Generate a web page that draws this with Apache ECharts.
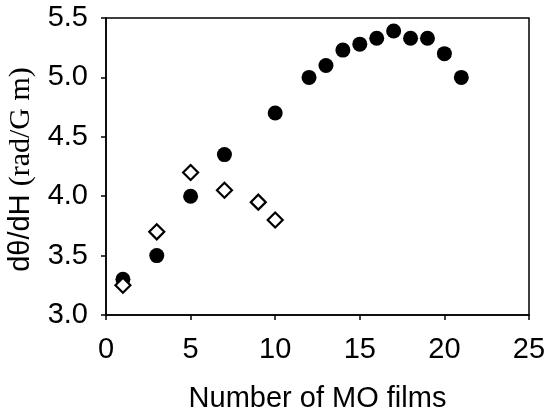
<!DOCTYPE html>
<html>
<head>
<meta charset="utf-8">
<script src="https://cdn.jsdelivr.net/npm/echarts@6/dist/echarts.min.js"></script>
<style>
html,body{margin:0;padding:0;background:#fff;}
#c{width:550px;height:416px;}
</style>
</head>
<body>
<div id="c"></div>
<script>
var filledX = [1, 3, 5, 7, 10, 12, 13, 14, 15, 16, 17, 18, 19, 20, 21];
var filledY = [3.3, 3.5, 4.0, 4.35, 4.7, 5.0, 5.1, 5.23, 5.28, 5.33, 5.39, 5.33, 5.33, 5.2, 5.0];
var openX = [1, 3, 5, 7, 9, 10];
var openY = [3.25, 3.7, 4.2, 4.05, 3.95, 3.8];
var xTicks = [0, 5, 10, 15, 20, 25];
var yTicks = [3.0, 3.5, 4.0, 4.5, 5.0, 5.5];

function pairs(xs, ys) { return xs.map(function (x, i) { return [x, ys[i]]; }); }

var SANS = "'Liberation Sans', Arial, sans-serif";
var SERIF = "'Liberation Serif', 'Times New Roman', serif";

var chart = echarts.init(document.getElementById('c'), null, {renderer: 'canvas'});
chart.setOption({
  backgroundColor: '#fff',
  animation: false,
  grid: {left: 106, right: 21, top: 18, bottom: 101, containLabel: false, outerBoundsMode: 'none',
    show: true, borderColor: '#000', borderWidth: 1.5, backgroundColor: 'transparent'},
  xAxis: {
    type: 'value', min: xTicks[0], max: xTicks[xTicks.length - 1], interval: 5,
    name: 'Number of MO films', nameLocation: 'middle', nameGap: 69,
    nameTextStyle: {fontFamily: SANS, fontSize: 29, color: '#000'},
    axisLine: {show: true, lineStyle: {color: '#000', width: 1.5}},
    axisTick: {show: true, inside: false, length: 5, lineStyle: {color: '#000', width: 1.5}},
    axisLabel: {fontFamily: SANS, fontSize: 29, color: '#000', margin: 20},
    splitLine: {show: false}
  },
  yAxis: {
    type: 'value', min: yTicks[0], max: yTicks[yTicks.length - 1], interval: 0.5,
    name: '{a|dθ/dH} {b|(rad/G m)}', nameLocation: 'middle', nameGap: 70, nameRotate: 90,
    nameTextStyle: {
      color: '#000', fontSize: 29, padding: [0, 6, 0, 0],
      rich: {
        a: {fontFamily: SANS, fontSize: 29, color: '#000'},
        b: {fontFamily: SERIF, fontSize: 30, color: '#000'}
      }
    },
    axisLine: {show: true, lineStyle: {color: '#000', width: 1.5}},
    axisTick: {show: true, inside: false, length: 5, lineStyle: {color: '#000', width: 1.5}},
    axisLabel: {fontFamily: SANS, fontSize: 29, color: '#000', margin: 18,
      formatter: function (v) { return v.toFixed(1); }},
    splitLine: {show: false}
  },
  series: [
    {
      type: 'scatter', data: pairs(filledX, filledY), symbol: 'circle', symbolSize: 15,
      itemStyle: {color: '#000', opacity: 1}, z: 2
    },
    {
      type: 'scatter', data: pairs(openX, openY), symbol: 'diamond', symbolSize: 15,
      itemStyle: {color: '#fff', borderColor: '#000', borderWidth: 2.2, opacity: 1}, z: 3
    }
  ]
});
</script>
</body>
</html>
